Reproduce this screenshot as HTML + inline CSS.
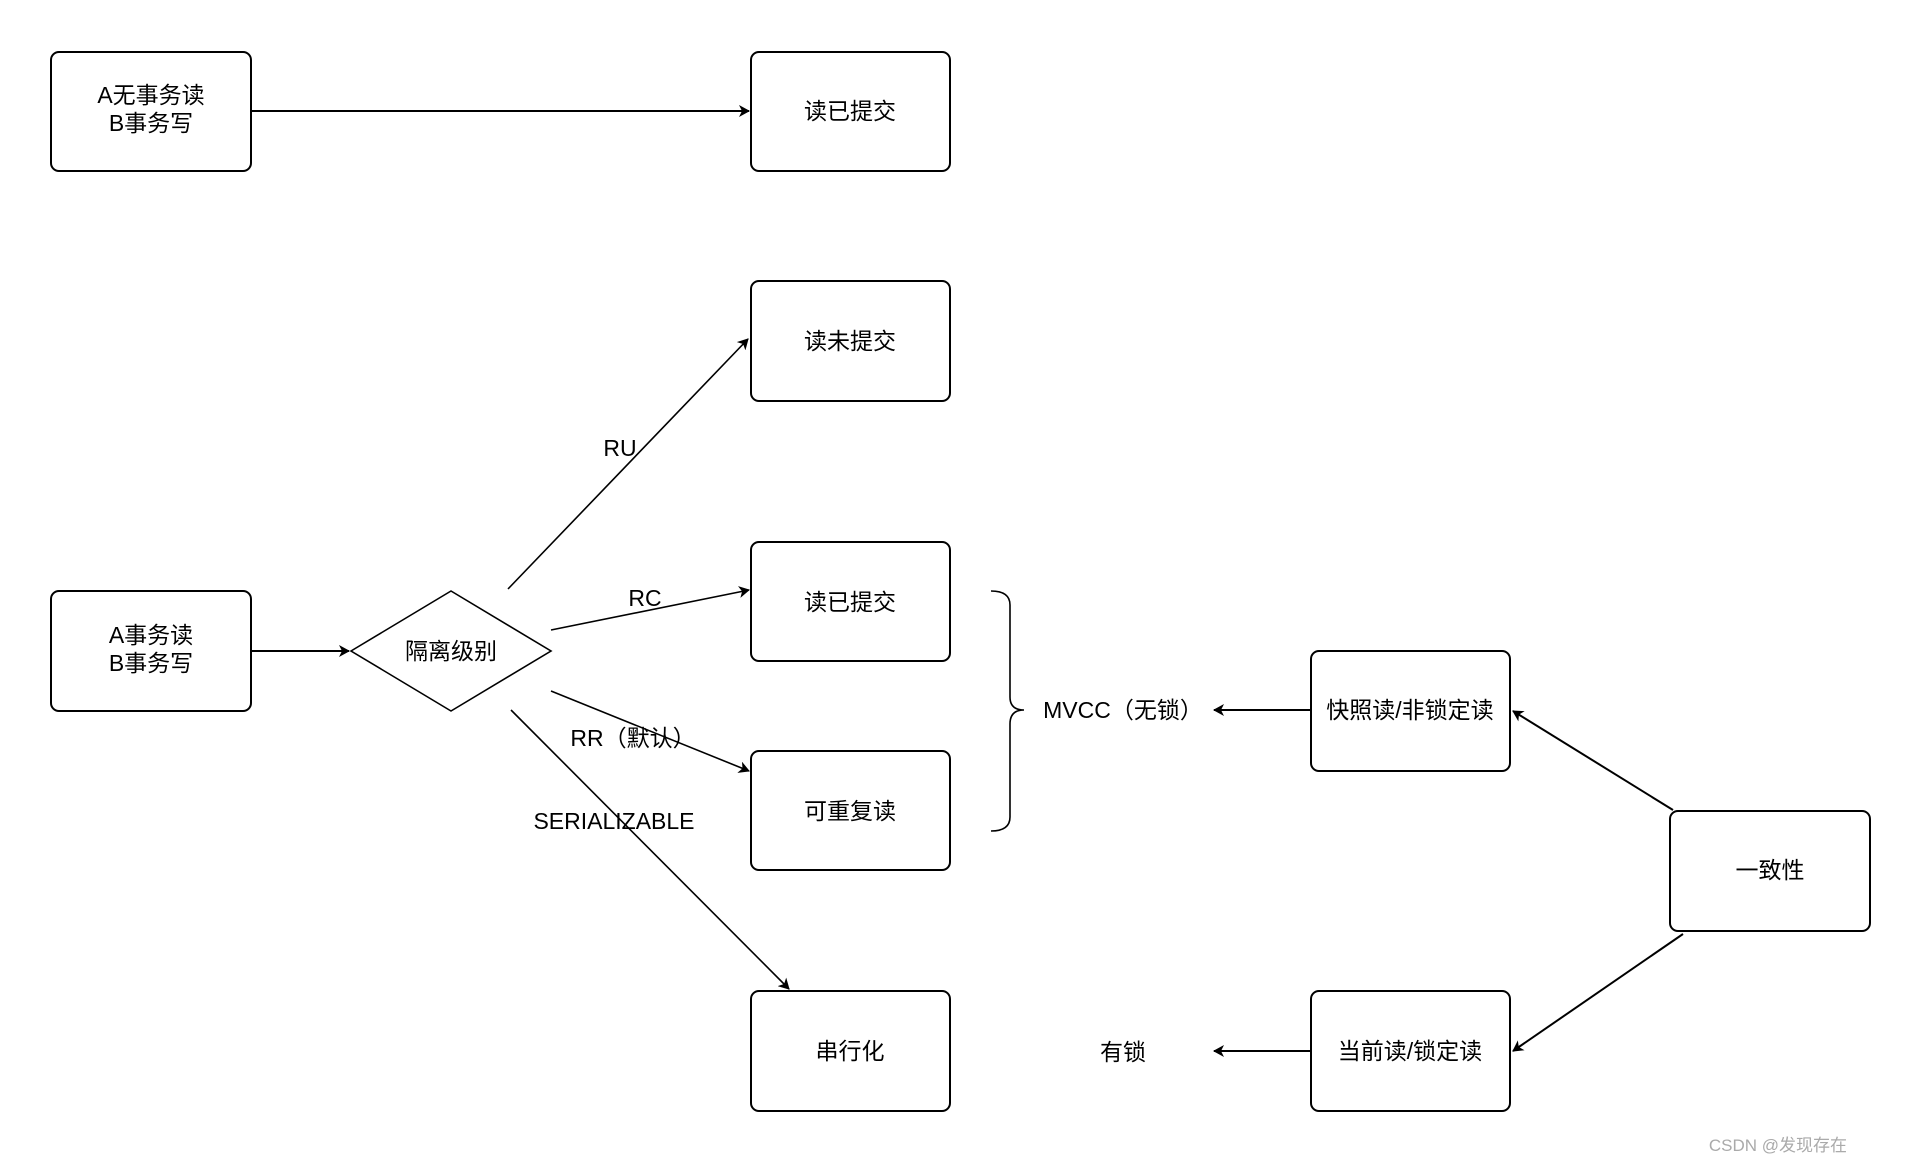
<!DOCTYPE html>
<html><head><meta charset="utf-8"><style>
html,body{margin:0;padding:0;background:#fff;}
svg{display:block;}
text{font-family:"Liberation Sans","Noto Sans CJK SC",sans-serif;font-size:23px;fill:#000;}
</style></head><body>
<svg width="1922" height="1162" viewBox="0 0 1922 1162" xmlns="http://www.w3.org/2000/svg">
<defs>
<marker id="a" markerWidth="12" markerHeight="12" refX="10" refY="6" orient="auto" markerUnits="userSpaceOnUse">
<path d="M0,0 L11,6 L0,12 L3,6 Z" fill="#000"/>
</marker>
</defs>
<g fill="none" stroke="#000" stroke-width="2">
<rect x="51" y="52" width="200" height="119" rx="8"/>
<rect x="751" y="52" width="199" height="119" rx="8"/>
<rect x="751" y="281" width="199" height="120" rx="8"/>
<rect x="751" y="542" width="199" height="119" rx="8"/>
<rect x="751" y="751" width="199" height="119" rx="8"/>
<rect x="751" y="991" width="199" height="120" rx="8"/>
<rect x="51" y="591" width="200" height="120" rx="8"/>
<polygon points="351,651 451,591 551,651 451,711" stroke-width="1.6"/>
<rect x="1311" y="651" width="199" height="120" rx="8"/>
<rect x="1670" y="811" width="200" height="120" rx="8"/>
<rect x="1311" y="991" width="199" height="120" rx="8"/>
<path d="M991,591 Q1010,591 1010,605 L1010,697 Q1010,710 1024,710 Q1010,710 1010,724 L1010,817 Q1010,831 991,831" stroke-width="1.6"/>
</g>
<g stroke="#000" stroke-width="2" fill="none">
<line x1="251" y1="111" x2="749" y2="111" marker-end="url(#a)"/>
<line x1="251" y1="651" x2="349" y2="651" marker-end="url(#a)"/>
<line x1="508" y1="589" x2="748" y2="339" marker-end="url(#a)" stroke-width="1.6"/>
<line x1="551" y1="630" x2="749" y2="590" marker-end="url(#a)" stroke-width="1.6"/>
<line x1="551" y1="691" x2="749" y2="771" marker-end="url(#a)" stroke-width="1.6"/>
<line x1="511" y1="710" x2="789" y2="989" marker-end="url(#a)" stroke-width="1.6"/>
<line x1="1311" y1="710" x2="1214" y2="710" marker-end="url(#a)"/>
<line x1="1311" y1="1051" x2="1214" y2="1051" marker-end="url(#a)"/>
<line x1="1673" y1="810" x2="1513" y2="711" marker-end="url(#a)"/>
<line x1="1683" y1="934" x2="1513" y2="1051" marker-end="url(#a)"/>
</g>
<g text-anchor="middle">
<text x="151" y="103">A无事务读</text>
<text x="151" y="131">B事务写</text>
<text x="850" y="119">读已提交</text>
<text x="850" y="349">读未提交</text>
<text x="850" y="610">读已提交</text>
<text x="850" y="819">可重复读</text>
<text x="850" y="1059">串行化</text>
<text x="151" y="643">A事务读</text>
<text x="151" y="671">B事务写</text>
<text x="451" y="659">隔离级别</text>
<text x="1410" y="718">快照读/非锁定读</text>
<text x="1770" y="878">一致性</text>
<text x="1410" y="1059">当前读/锁定读</text>
<text x="1123" y="718">MVCC（无锁）</text>
<text x="1123" y="1060">有锁</text>
<text x="620" y="456">RU</text>
<text x="645" y="606">RC</text>
<text x="633" y="746">RR（默认）</text>
<text x="614" y="829">SERIALIZABLE</text>
<text x="1847" y="1151" style="font-size:17px;fill:#aaa" text-anchor="end">CSDN @发现存在</text>
</g>
</svg>
</body></html>
